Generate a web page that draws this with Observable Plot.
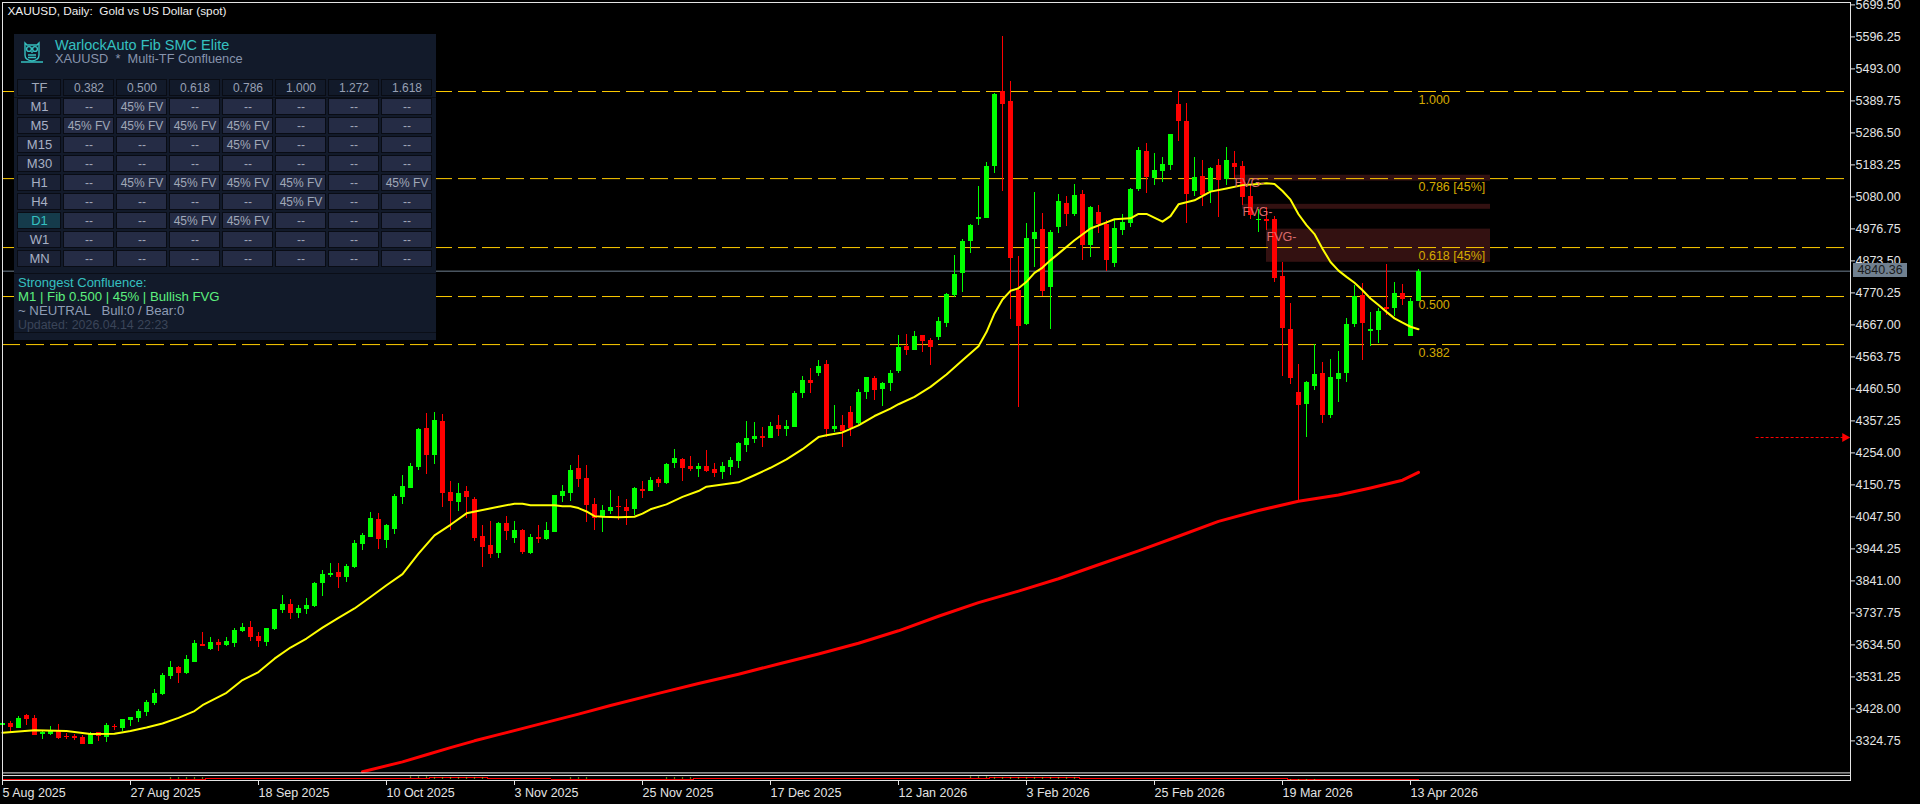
<!DOCTYPE html>
<html><head><meta charset="utf-8">
<script src="https://cdn.jsdelivr.net/npm/d3@7"></script>
<script src="https://cdn.jsdelivr.net/npm/@observablehq/plot@0.6"></script>
<style>
html,body{margin:0;padding:0;background:#000;overflow:hidden}
#root{position:relative;width:1920px;height:804px;font-family:"Liberation Sans",sans-serif}
#root svg{position:absolute;left:0;top:0;max-width:none}
.t{position:absolute;white-space:pre;font-size:12.5px;line-height:14px}
</style></head><body><div id="root"></div>
<script>
const opens=[3373,3382,3366,3406,3398,3345,3345,3359,3340,3340,3336,3314,3351,3337,3371,3365,3391,3398,3417,3446,3474,3533,3562,3542,3579,3636,3619,3642,3632,3640,3679,3690,3662,3643,3684,3746,3766,3737,3750,3759,3834,3859,3869,3853,3885,3959,3982,4040,3972,4008,4111,4140,4208,4334,4246,4356,4127,4095,4130,4105,3985,3956,3930,4027,3979,4005,3930,3982,3976,3998,4114,4124,4205,4172,4088,4050,4066,4082,4079,4072,4137,4130,4169,4156,4221,4234,4211,4201,4211,4201,4192,4208,4227,4279,4298,4308,4301,4343,4330,4337,4447,4489,4511,4540,4330,4343,4385,4350,4450,4495,4459,4479,4518,4598,4585,4634,4618,4627,4672,4763,4834,4937,5008,5011,5179,5421,5389,4779,4669,4943,4976,4789,4982,5060,5024,5089,4924,5031,4992,4866,4972,4995,5105,5227,5140,5163,5182,5379,5324,5098,5147,5098,5182,5137,5189,5179,5082,5005,5008,5008,4824,4653,4450,4411,4469,4511,4376,4492,4511,4669,4763,4647,4650,4724,4721,4769,4631,4743];
const closes=[3382,3369,3398,3395,3341,3351,3359,3332,3336,3334,3314,3348,3338,3375,3367,3394,3400,3421,3450,3478,3537,3561,3542,3587,3640,3628,3643,3633,3645,3682,3692,3659,3644,3688,3750,3766,3737,3753,3763,3834,3863,3866,3853,3888,3963,3988,4043,3975,4021,4114,4146,4211,4330,4246,4359,4124,4098,4124,4111,3979,3950,3927,4027,4001,4005,3934,3982,3976,4005,4117,4130,4198,4169,4085,4043,4069,4079,4079,4066,4140,4130,4166,4156,4217,4237,4205,4201,4211,4195,4188,4211,4230,4285,4301,4308,4301,4340,4330,4340,4447,4489,4479,4534,4330,4340,4324,4334,4450,4498,4456,4479,4511,4595,4585,4630,4614,4595,4679,4766,4831,4937,4989,5014,5179,5411,5379,4882,4663,4947,4966,4776,4966,5066,5024,5085,4924,5047,4992,4876,4979,4998,5105,5231,5143,5166,5185,5282,5324,5089,5143,5085,5173,5134,5198,5176,5079,5021,5008,5002,4818,4656,4495,4408,4482,4508,4376,4498,4511,4669,4760,4672,4653,4711,4718,4769,4750,4743,4840];
const highs=[3382,3387,3404,3410,3408,3359,3372,3379,3348,3346,3343,3353,3353,3382,3379,3394,3400,3426,3456,3492,3542,3581,3566,3600,3650,3675,3659,3653,3658,3688,3704,3711,3675,3688,3750,3795,3782,3763,3785,3837,3875,3898,3898,3895,3972,3995,4063,4059,4024,4121,4182,4221,4334,4382,4385,4379,4163,4156,4146,4111,4021,4034,4030,4050,4034,4008,3992,4021,4030,4117,4150,4214,4247,4214,4108,4085,4134,4114,4105,4143,4163,4176,4176,4221,4266,4237,4243,4221,4263,4221,4224,4240,4288,4356,4353,4337,4353,4376,4359,4453,4501,4527,4553,4553,4408,4376,4405,4459,4498,4501,4482,4521,4634,4637,4647,4634,4624,4692,4769,4892,4943,4992,5114,5192,5415,5598,5453,4889,4995,5095,5027,4972,5089,5082,5121,5102,5050,5053,5005,5005,5024,5108,5240,5253,5221,5208,5282,5421,5382,5208,5198,5176,5202,5240,5227,5195,5118,5040,5047,5018,4869,4737,4540,4485,4605,4547,4556,4582,4689,4795,4802,4708,4721,4863,4805,4798,4753,4847];
const lows=[3373,3353,3366,3375,3341,3330,3343,3330,3329,3325,3314,3312,3324,3320,3359,3354,3372,3385,3405,3438,3470,3524,3510,3540,3579,3628,3615,3612,3630,3627,3673,3646,3627,3630,3682,3737,3717,3721,3733,3756,3792,3853,3817,3837,3882,3940,3982,3943,3946,3992,4088,4140,4198,4185,4217,4079,4004,4066,4043,3969,3885,3914,3914,3972,3963,3927,3927,3963,3972,3998,4095,4098,4143,4030,4005,3998,4056,4037,4021,4053,4108,4130,4143,4153,4205,4163,4195,4176,4192,4176,4169,4182,4205,4256,4285,4272,4301,4308,4308,4337,4430,4447,4501,4305,4321,4272,4308,4347,4427,4424,4405,4453,4511,4569,4585,4579,4537,4618,4660,4756,4772,4898,4989,5011,5156,5098,4685,4401,4666,4853,4760,4653,4963,4985,5018,4876,4885,4963,4840,4853,4956,4982,5098,5092,5118,5127,5166,5260,4995,5082,5050,5060,5014,5118,5140,5053,5008,4966,4972,4805,4501,4476,4098,4305,4456,4350,4366,4418,4482,4660,4553,4598,4607,4698,4695,4731,4631,4743];
const maIdx=[0,4,8,11,14,16,18,20,22,24,25,28,30,32,34,36,38,40,42,44,46,48,50,52,54,56,58,60,62,64,65,66,69,70,71,72,73,74,75,77,79,80,81,83,85,87,88,90,92,94,96,98,100,102,103,105,107,109,111,112,114,116,118,120,122,123,124,125,126,127,128,129,130,131,132,134,136,138,139,141,142,143,145,146,147,149,151,153,155,157,158,159,160,161,162,163,164,165,166,167,168,169,170,171,172,173,174,175,176,177];
const maVal=[3351,3359,3357,3347,3348,3357,3368,3381,3399,3421,3440,3480,3521,3547,3590,3626,3655,3690,3722,3752,3789,3827,3863,3929,3988,4022,4059,4070,4080,4090,4090,4085,4085,4082,4082,4076,4065,4050,4048,4046,4048,4058,4072,4088,4112,4131,4145,4152,4159,4182,4206,4233,4266,4305,4311,4320,4343,4373,4397,4411,4435,4467,4507,4553,4598,4644,4704,4749,4777,4785,4806,4835,4852,4876,4897,4940,4978,4998,5008,5011,5025,5025,5000,5018,5056,5069,5097,5107,5118,5122,5124,5122,5099,5071,5024,4989,4960,4913,4870,4842,4822,4803,4779,4752,4731,4709,4688,4674,4661,4653];
const ma200Idx=[45,50,53,56,59,62,67,72,76,82,87,92,97,102,107,112,117,122,127,132,137,142,147,152,157,162,167,171,175,177];
const ma200Val=[3225,3257,3280,3303,3325,3345,3378,3411,3439,3478,3510,3540,3573,3605,3640,3680,3727,3771,3808,3848,3893,3938,3985,4033,4068,4098,4118,4141,4166,4191];
const fibPrices=[5420,5139,4916.5,4758.5,4603.5];
const fibNames=["1.000","0.786 [45%]","0.618 [45%]","0.500","0.382"];
const fvgStart=[154,155,158], fvgEnd=[186,186,186], fvgTop=[5150,5056,4976], fvgBottom=[5131,5040,4869];
const lastPrice=4840.36, paneEdges=[3221.5,3213], arrowPrice=4303.6, arrowFrom=219.2, arrowTo=230.3;
const stripIdx=[0,25.4,53.4,60.6,68.5,86.4,123.4,134.6,160.6,164.6,177];
const stripVal=[3201.8,3205,3208.2,3205,3201.8,3205,3208.2,3205,3201.8,3198.6,3198.6];
const stripDotIdx=[21,22,23,24,25,51,52,53,54,55,56,57,58,59,60,71,72,73,83,84,85,86,121,122,123,124,125,126,127,128,129,130,131,132,133,134,161,162,163,164];
const stripDotVal=[3205,3205,3205,3205,3205,3208,3208,3208,3205,3205,3205,3205,3205,3205,3205,3205,3205,3205,3205,3205,3205,3205,3208,3208,3208,3205,3205,3205,3205,3205,3205,3205,3205,3205,3205,3205,3199,3199,3199,3199];
const priceTicks=[5699.5,5596.25,5493,5389.75,5286.5,5183.25,5080,4976.75,4873.5,4770.25,4667,4563.75,4460.5,4357.25,4254,4150.75,4047.5,3944.25,3841,3737.75,3634.5,3531.25,3428,3324.75];
const dateIdx=[0,16,32,48,64,80,96,112,128,144,160,176];
const dateLabels=["5 Aug 2025","27 Aug 2025","18 Sep 2025","10 Oct 2025","3 Nov 2025","25 Nov 2025","17 Dec 2025","12 Jan 2026","3 Feb 2026","25 Feb 2026","19 Mar 2026","13 Apr 2026"];
const timeframes=["M1","M5","M15","M30","H1","H4","D1","W1","MN"];
const levels=["0.382","0.500","0.618","0.786","1.000","1.272","1.618"];
const hits={M1:[0,1,0,0,0,0,0],M5:[1,1,1,1,0,0,0],M15:[0,0,0,1,0,0,0],M30:[0,0,0,0,0,0,0],H1:[0,1,1,1,1,0,1],H4:[0,0,0,0,1,0,0],D1:[0,0,1,1,0,0,0],W1:[0,0,0,0,0,0,0],MN:[0,0,0,0,0,0,0]};

const font='"Liberation Sans",sans-serif';
const candles=opens.map((o,i)=>({i,o,c:closes[i],h:highs[i],l:lows[i]}));
const col=d=>d.c>=d.o?"#00ff00":"#ff0000";
const ma=maIdx.map((i,k)=>({i,v:maVal[k]}));
const ma200=ma200Idx.map((i,k)=>({i,v:ma200Val[k]}));
const strip=stripIdx.map((i,k)=>({i,v:stripVal[k]}));
const stripDots=stripDotIdx.map((i,k)=>({i,v:stripDotVal[k]}));
const fibs=fibPrices.map((p,k)=>({p,n:fibNames[k]}));
const fvg=fvgStart.map((s,k)=>({s,e:fvgEnd[k],t:fvgTop[k],b:fvgBottom[k]}));
const yTop=5699.5+4.4*3.2265625;

const chart=Plot.plot({
  width:1920,height:804,marginLeft:2,marginTop:2,marginRight:70,marginBottom:24,
  style:{background:"#000",color:"#e4e4e4",fontFamily:font,fontSize:"12.5px",overflow:"visible"},
  x:{domain:[-0.25,239.75],range:[0,1920]},
  y:{domain:[yTop,yTop-804*3.2265625],range:[0,804]},
  marks:[
    Plot.rect(fvg,{x1:"s",x2:"e",y1:"t",y2:"b",fill:"#331111"}),
    Plot.ruleY(fibs,{y:"p",x1:0,x2:230.25,stroke:"#ffcc00",strokeDasharray:"18 6",strokeWidth:1}),
    Plot.ruleY([lastPrice],{x1:0,x2:231,stroke:"#708090",strokeWidth:1}),
    Plot.ruleX(candles,{x:"i",y1:"l",y2:"h",stroke:col,strokeWidth:1,shapeRendering:"crispEdges"}),
    Plot.ruleX(candles,{x:"i",y1:"o",y2:"c",stroke:col,strokeWidth:5,shapeRendering:"crispEdges"}),
    Plot.line(ma200,{x:"i",y:"v",stroke:"#ff0000",strokeWidth:3,curve:"linear"}),
    Plot.line(ma,{x:"i",y:"v",stroke:"#ffff00",strokeWidth:2,curve:"linear"}),
    Plot.line(strip,{x:"i",y:"v",stroke:"#ff0000",strokeWidth:1,curve:"step-after",shapeRendering:"crispEdges"}),
    Plot.dot(stripDots,{x:"i",y:"v",symbol:"square",r:0.7,fill:"#9acd32"}),
    Plot.text(fibs,{x:177,y:"p",text:"n",dy:8.5,textAnchor:"start",fill:"#d4aa00",fontSize:12.5}),
    Plot.text(fvg,{x:"s",y:"t",text:()=>"FVG-",dy:7.5,textAnchor:"start",fill:"#d96b6b",fontSize:12.5}),
    Plot.ruleY([arrowPrice],{x1:arrowFrom,x2:arrowTo,stroke:"#ff0000",strokeDasharray:"3 2",strokeWidth:1}),
    Plot.dot([arrowPrice],{x:arrowTo,y:d=>d,symbol:"triangle",rotate:90,r:3.4,fill:"#ff0000"}),
    Plot.ruleY(paneEdges,{stroke:"#e4e4e4",x1:0,x2:231}),
    Plot.frame({stroke:"#e4e4e4"}),
    Plot.axisY({anchor:"right",ticks:priceTicks,tickFormat:d3.format(".2f"),tickSize:4,tickPadding:1,label:null}),
    Plot.axisX({anchor:"bottom",ticks:dateIdx,tickFormat:i=>dateLabels[dateIdx.indexOf(i)],tickSize:5,tickPadding:3,textAnchor:"start",label:null})
  ]
});
const root=document.getElementById("root");
root.appendChild(chart);

function addDiv(css,text){const d=document.createElement("div");d.style.cssText=css;if(text!=null)d.textContent=text;root.appendChild(d);return d;}
addDiv("position:absolute;left:14px;top:34px;width:422px;height:306px;background:#121a2a");
addDiv("position:absolute;left:14px;top:97px;width:422px;height:1px;background:#0a0e17");
addDiv("position:absolute;left:14px;top:273px;width:422px;height:1px;background:#0a0e17");
addDiv("position:absolute;left:14px;top:332px;width:422px;height:1px;background:#0a0e17");

const rowsY=["TF",...timeframes];
const yRange=[79,270], yPad={domain:rowsY,range:yRange,paddingInner:0.105,paddingOuter:0,align:0};
const cells=timeframes.flatMap(tf=>levels.map((l,k)=>({tf,l,on:hits[tf][k]})));
const tableStyle={background:"transparent",fontFamily:font,fontSize:"12px",position:"absolute",left:0,top:0,overflow:"visible"};
const tfPlot=Plot.plot({width:450,height:300,margin:0,style:tableStyle,
  x:{type:"band",domain:["TF"],range:[17,61],axis:null,padding:0},
  y:{type:"band",...yPad,axis:null},
  marks:[
    Plot.cell(rowsY,{x:()=>"TF",y:d=>d,fill:d=>d==="D1"?"#153b4b":d==="TF"?"#121a2a":"#1a2135",stroke:"#090c14",inset:0.5}),
    Plot.text(rowsY,{x:()=>"TF",y:d=>d,text:d=>d,fill:d=>d==="D1"?"#35c0c0":d==="TF"?"#a0a8b8":"#a8b0c4",fontSize:13})
  ]});
const fibPlot=Plot.plot({width:450,height:300,margin:0,style:tableStyle,
  x:{type:"band",domain:levels,range:[62,433],padding:0,paddingInner:0.0377,axis:null},
  y:{type:"band",...yPad,axis:null},
  marks:[
    Plot.cell(levels,{x:d=>d,y:()=>"TF",fill:"#121a2a",stroke:"#090c14",inset:0.5}),
    Plot.text(levels,{x:d=>d,y:()=>"TF",text:d=>d,fill:"#98a0b4"}),
    Plot.cell(cells,{x:"l",y:"tf",fill:"#252c45",stroke:"#090c14",inset:0.5}),
    Plot.text(cells,{x:"l",y:"tf",text:d=>d.on?"45% FV":"--",fill:"#a0a8b8"})
  ]});
root.appendChild(tfPlot);root.appendChild(fibPlot);

addDiv("left:7.5px;top:4px;color:#eee;font-size:11.8px","XAUUSD, Daily:  Gold vs US Dollar (spot)").className="t";
const owl=document.createElementNS("http://www.w3.org/2000/svg","svg");
owl.setAttribute("width","24");owl.setAttribute("height","24");owl.setAttribute("viewBox","0 0 24 24");
owl.style.cssText="position:absolute;left:20px;top:40px";
owl.innerHTML='<g fill="none" stroke="#35c0c0" stroke-width="1.4"><path d="M5 3 L7 5 H17 L19 3 V15 Q19 20 12 21 Q5 20 5 15 Z"/><circle cx="9" cy="9" r="2.4"/><circle cx="15" cy="9" r="2.4"/><path d="M12 11 V13 M8 15 H16 M8 17.5 H16 M1 22 H23"/></g>';
root.appendChild(owl);
const lines=[["left:55px;top:38px;color:#35c0c0;font-size:14.5px","WarlockAuto Fib SMC Elite"],
["left:55px;top:52px;color:#8794ad;font-size:12.8px","XAUUSD  *  Multi-TF Confluence"],
["left:18px;top:276px;color:#35c0c0;font-size:13px","Strongest Confluence:"],
["left:18px;top:290px;color:#5df07e;font-size:13.2px","M1 | Fib 0.500 | 45% | Bullish FVG"],
["left:18px;top:304px;color:#8e9cb4;font-size:13.2px","~ NEUTRAL   Bull:0 / Bear:0"],
["left:18px;top:318px;color:#3b4559;font-size:12.4px","Updated: 2026.04.14 22:23"]];
for(const [c,t] of lines){const d=addDiv(c,t);d.className="t";}
addDiv("position:absolute;left:1853px;top:263px;width:54px;height:14px;background:#708090;color:#1a1a1a;text-align:center;font-size:12.5px;line-height:14px",String(lastPrice));
</script></body></html>
